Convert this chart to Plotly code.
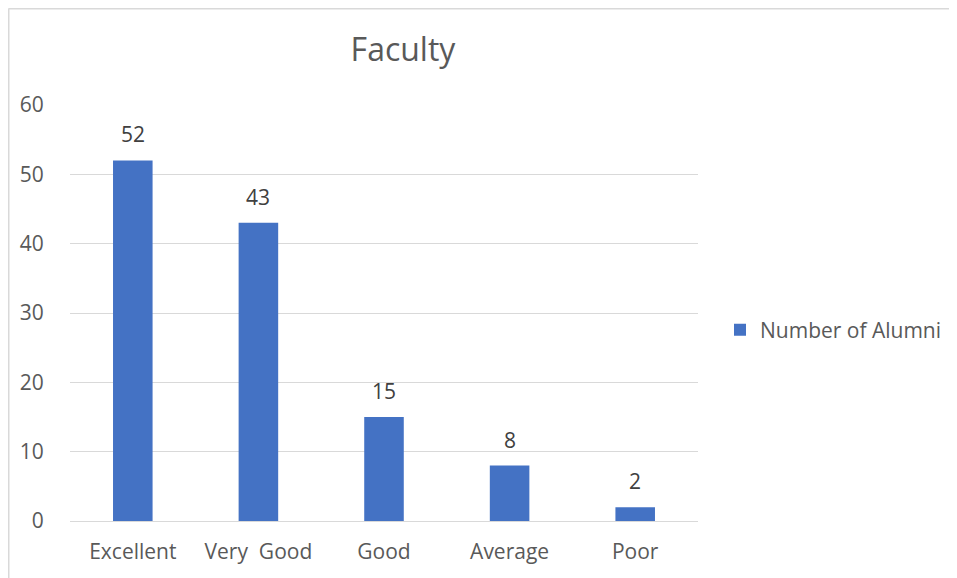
import plotly.graph_objects as go

categories = ["Excellent", "Very\u00a0 Good", "Good", "Average", "Poor"]
alumni = [52, 43, 15, 8, 2]
series_name = "Number of Alumni"

FONT = "Open Sans, Lato, sans-serif"
BLUE = "#4472C4"
GRID = "#d9d9d9"

# page has an 8px body margin, so figure is a bit smaller than the window
W, H = 949, 570
L, T = 62, 97
PW, PH = 628, 416

fig = go.Figure()
fig.add_trace(go.Bar(
    x=categories,
    y=alumni,
    name=series_name,
    marker=dict(color=BLUE, line=dict(width=0)),
))

# data labels above bars
for cat, val in zip(categories, alumni):
    fig.add_annotation(x=cat, y=val, text=str(val), showarrow=False,
                       yanchor="middle", yshift=26,
                       font=dict(size=21, color="#404040", family=FONT))

# light frame on the top and left edges (cropped Excel chart border)
fx = (0.5 - L) / PW
fy = (T + PH - 0.5) / PH
fig.add_shape(type="line", xref="paper", yref="paper",
              x0=fx, x1=(W - L) / PW, y0=fy, y1=fy,
              line=dict(color=GRID, width=2))
fig.add_shape(type="line", xref="paper", yref="paper",
              x0=fx, x1=fx, y0=fy, y1=-(H - T - PH) / PH,
              line=dict(color=GRID, width=2))

fig.update_layout(
    width=W, height=H,
    margin=dict(l=L, r=W - L - PW, t=T, b=H - T - PH, autoexpand=False),
    paper_bgcolor="white",
    plot_bgcolor="white",
    bargap=0.685,
    font=dict(family=FONT, color="#595959", size=21),
    title=dict(text="Faculty", x=(395 - L) / PW, xref="paper", xanchor="center",
               y=1 - 42 / H, yanchor="middle",
               font=dict(size=32, color="#595959", family=FONT)),
    showlegend=True,
    legend=dict(x=(712 - L) / PW, xanchor="left", y=(T + PH - 322) / PH, yanchor="middle",
                font=dict(size=21, color="#595959"), itemwidth=30,
                bgcolor="rgba(0,0,0,0)"),
    xaxis=dict(showgrid=False, showline=True, linecolor=GRID, linewidth=1,
               ticks="outside", ticklen=12, tickcolor="rgba(0,0,0,0)",
               tickfont=dict(size=21, color="#595959")),
    yaxis=dict(range=[0, 60], dtick=10, showgrid=True, gridcolor=GRID, gridwidth=1,
               zeroline=False, showline=False,
               ticks="outside", ticklen=21, tickcolor="rgba(0,0,0,0)",
               tickfont=dict(size=21, color="#595959")),
)

fig.write_html("out.html")
